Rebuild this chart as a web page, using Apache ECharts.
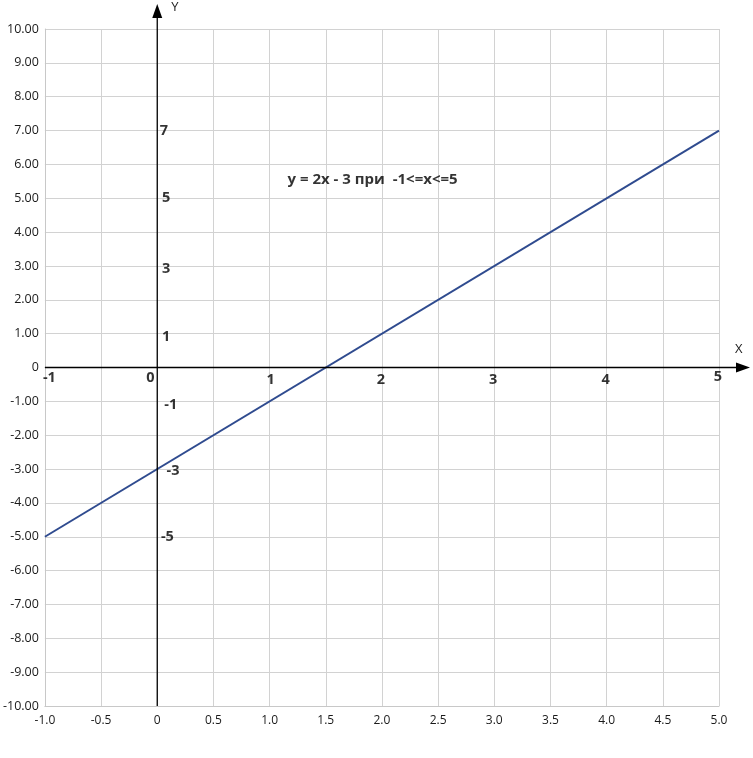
<!DOCTYPE html>
<html>
<head>
<meta charset="utf-8">
<script src="https://cdn.jsdelivr.net/npm/echarts@6/dist/echarts.min.js"></script>
<style>
html,body{margin:0;padding:0;background:#fff;}
#main{width:753px;height:758px;}
</style>
</head>
<body>
<div id="main"></div>
<script>
// Line y = 2x - 3 on -1 <= x <= 5
var lineX = [-1, 5];
var lineY = [-5, 7];

// Bold annotation labels near the axes
var annText = ['7', '5', '3', '1', '0', '-1', '1', '2', '3', '4', '5', '-1', '-3', '-5'];
var annX = [0.06, 0.08, 0.08, 0.08, -0.06, -0.96, 1.01, 1.99, 2.99, 3.99, 4.99, 0.12, 0.14, 0.09];
var annY = [7.0, 5.0, 2.9, 0.9, -0.3, -0.3, -0.37, -0.37, -0.37, -0.37, -0.28, -1.1, -3.06, -5.0];

var formulaText = 'y = 2x - 3 при  -1<=x<=5';
var formulaX = 1.16;
var formulaY = 5.54;

var xMin = -1, xMax = 5, xStep = 0.5;
var yMin = -10, yMax = 10, yStep = 1;

var chart = echarts.init(document.getElementById('main'));
var font = '"Open Sans", "DejaVu Sans", sans-serif';

var option = {
  animation: false,
  backgroundColor: '#fff',
  grid: { left: 44, right: 34, top: 29, bottom: 52, containLabel: false },
  xAxis: {
    type: 'value', min: xMin, max: xMax, interval: xStep,
    axisLine: { show: true, onZero: false, lineStyle: { color: '#c8c8c8' } },
    axisTick: { show: false },
    splitLine: { show: true, lineStyle: { color: '#d2d2d2', width: 1 } },
    axisLabel: {
      color: '#1a1a1a', fontSize: 12, fontFamily: font, margin: 9,
      formatter: function (v) { return v === 0 ? '0' : v.toFixed(1); }
    }
  },
  yAxis: {
    type: 'value', min: yMin, max: yMax, interval: yStep,
    axisLine: { show: true, onZero: false, lineStyle: { color: '#c8c8c8' } },
    axisTick: { show: false },
    splitLine: { show: true, lineStyle: { color: '#d2d2d2', width: 1 } },
    axisLabel: {
      color: '#1a1a1a', fontSize: 12.5, fontFamily: font, margin: 6,
      formatter: function (v) { return v === 0 ? '0' : v.toFixed(2); }
    }
  },
  series: [
    {
      type: 'line',
      data: lineX.map(function (x, i) { return [x, lineY[i]]; }),
      showSymbol: false,
      lineStyle: { color: '#2f4b8f', width: 2 },
      z: 5
    },
    {
      type: 'scatter',
      symbolSize: 0,
      data: annX.map(function (x, i) { return { value: [x, annY[i]], name: annText[i] }; }),
      label: {
        show: true, position: 'inside', formatter: '{b}',
        color: '#000', fontWeight: 'bold', fontSize: 14.5, fontFamily: font
      },
      z: 6
    },
    {
      type: 'scatter',
      symbolSize: 0,
      data: [{ value: [formulaX, formulaY], name: formulaText }],
      label: {
        show: true, position: 'right', distance: 0, formatter: '{b}',
        color: '#000', fontWeight: 'bold', fontSize: 15, fontFamily: font
      },
      z: 6
    }
  ]
};
chart.setOption(option);

// Black coordinate axes through zero with arrowheads
var o = chart.convertToPixel({ gridIndex: 0 }, [0, 0]);
var bl = chart.convertToPixel({ gridIndex: 0 }, [xMin, yMin]);
var ox = o[0], oy = o[1];
var left = bl[0], bottom = bl[1];
var topTip = 4, rightTip = 750;
chart.setOption({
  graphic: [
    { type: 'line', shape: { x1: ox, y1: bottom, x2: ox, y2: topTip + 8 }, style: { stroke: '#000', lineWidth: 1.3 }, z: 10 },
    { type: 'polygon', shape: { points: [[ox, topTip], [ox - 5, topTip + 14], [ox + 5, topTip + 14]] }, style: { fill: '#000' }, z: 10 },
    { type: 'line', shape: { x1: left, y1: oy, x2: rightTip - 8, y2: oy }, style: { stroke: '#000', lineWidth: 1.3 }, z: 10 },
    { type: 'polygon', shape: { points: [[rightTip, oy], [rightTip - 14, oy - 5], [rightTip - 14, oy + 5]] }, style: { fill: '#000' }, z: 10 },
    { type: 'text', x: ox + 14, y: 1, style: { text: 'Y', fill: '#222', fontSize: 13, fontFamily: font } },
    { type: 'text', x: rightTip - 15, y: oy - 25, style: { text: 'X', fill: '#222', fontSize: 13, fontFamily: font } }
  ]
});
</script>
</body>
</html>
